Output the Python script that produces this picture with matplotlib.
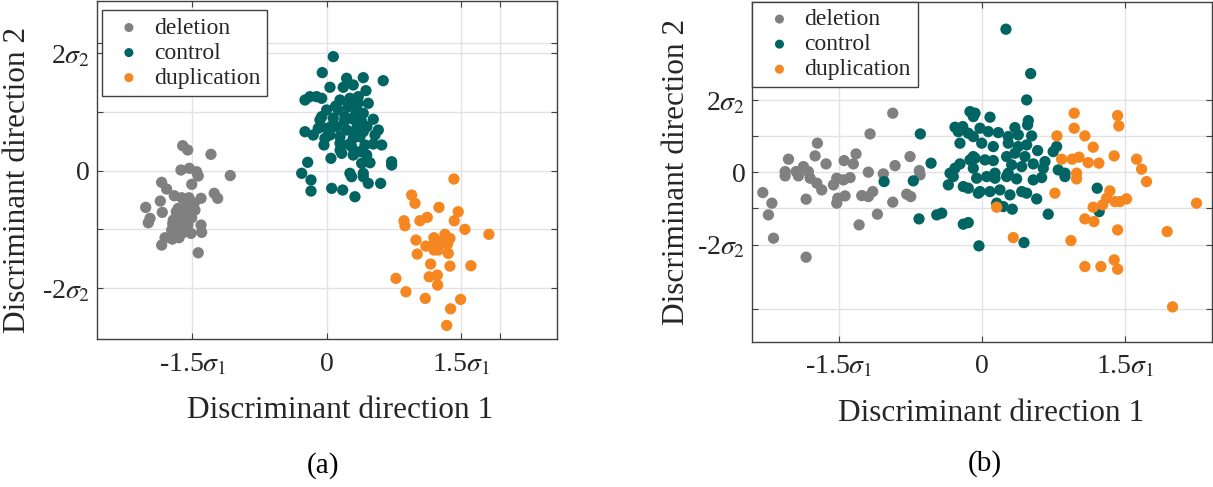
import matplotlib
matplotlib.use("Agg")
import matplotlib.pyplot as plt
import numpy as np

plt.rcParams["font.family"] = ["Liberation Serif", "DejaVu Serif"]
plt.rcParams["mathtext.fontset"] = "stix"

GREY = "#808080"
TEAL = "#006462"
ORANGE = "#f6861f"
TEXT = "#262626"

# projections, in units of sigma_1 / sigma_2

# (a) training-set projection
a_del_x = [-1.609, -1.553, -1.293, -1.628, -1.535, -1.453, -1.077, -1.844, -1.788, -1.508,
           -1.435, -1.703, -1.620, -1.539, -1.404, -1.256, -1.218, -2.022, -1.859, -1.837,
           -1.974, -1.993, -1.658, -1.583, -1.472, -1.508, -1.714, -1.676, -1.639, -1.732,
           -1.404, -1.397, -1.516, -1.806, -1.725, -1.650, -1.844, -1.435,
           -1.62, -1.58, -1.68, -1.55, -1.72, -1.60, -1.48, -1.57]
a_del_y = [0.426, 0.353, 0.279, 0.012, 0.041, -0.017, -0.082, -0.198, -0.312, -0.232,
           -0.090, -0.426, -0.460, -0.460, -0.470, -0.385, -0.470, -0.624, -0.516, -0.709,
           -0.811, -0.886, -0.641, -0.687, -0.670, -0.801, -0.840, -0.925, -0.981, -1.010,
           -0.925, -1.049, -1.066, -1.141, -1.164, -1.141, -1.266, -1.397,
           -0.75, -0.85, -0.70, -0.92, -0.90, -1.05, -0.55, -0.60]

a_ctl_x = [0.074, -0.049, 0.223, 0.409, 0.632, 0.037, 0.185, 0.297, 0.439, -0.242,
           -0.187, -0.112, -0.056, 0.149, 0.260, 0.353, 0.465, 0.000, 0.130, 0.241,
           0.335, 0.409, -0.056, -0.075, 0.074, 0.204, 0.297, 0.391, 0.521, -0.094,
           0.000, 0.112, 0.223, 0.335, 0.409, 0.577, -0.242, -0.150, 0.540, 0.037,
           0.149, 0.297, 0.372, -0.030, 0.149, 0.279, 0.428, 0.521, 0.615, 0.168,
           0.297, 0.372, 0.447, 0.048, -0.212, 0.391, 0.484, 0.726, 0.726, -0.279,
           0.260, 0.409, -0.175, 0.056, 0.179, 0.316, 0.279, 0.409, 0.465, 0.603,
           -0.175, 0.05, 0.20, 0.30, 0.10, 0.25, 0.35, 0.15, 0.45, -0.02, 0.32]
a_ctl_y = [1.942, 1.670, 1.574, 1.584, 1.533, 1.421, 1.421, 1.460, 1.363, 1.204,
           1.261, 1.261, 1.233, 1.204, 1.233, 1.261, 1.148, 1.034, 1.034, 1.090,
           1.034, 0.978, 0.920, 0.864, 0.893, 0.920, 0.876, 0.835, 0.876, 0.722,
           0.722, 0.750, 0.693, 0.722, 0.664, 0.693, 0.664, 0.608, 0.608, 0.608,
           0.579, 0.552, 0.579, 0.438, 0.467, 0.409, 0.438, 0.455, 0.438, 0.296,
           0.267, 0.324, 0.267, 0.211, 0.143, 0.126, 0.136, 0.153, 0.097, -0.044,
           -0.044, -0.044, -0.158, -0.300, -0.329, -0.443, -0.102, -0.102, -0.215, -0.215,
           -0.346, 0.75, 0.85, 0.65, 1.10, 0.45, 1.15, 0.35, 0.75, 0.55, 0.95]

a_dup_x = [1.422, 0.950, 0.987, 1.255, 1.470, 1.426, 0.864, 0.875, 1.042, 1.124,
           1.545, 1.813, 0.998, 1.199, 1.322, 1.378, 1.303, 1.109, 1.191, 1.247,
           1.359, 1.012, 1.162, 1.378, 1.612, 0.774, 1.146, 1.236, 1.240, 0.886,
           1.102, 1.497, 1.385, 1.341, 1.28, 1.35, 1.20]
a_dup_y = [-0.141, -0.414, -0.555, -0.624, -0.698, -0.852, -0.852, -0.937, -0.852, -0.794,
           -0.998, -1.083, -1.181, -1.141, -1.083, -1.152, -1.210, -1.283, -1.266, -1.351,
           -1.407, -1.419, -1.589, -1.624, -1.618, -1.833, -1.806, -1.777, -1.947, -2.061,
           -2.174, -2.191, -2.351, -2.634, -1.20, -1.25, -1.35]

# (b) held-out projection
b_del_x = [-0.938, -1.176, -1.728, -1.323, -1.752, -0.757, -2.031, -1.874, -1.637, -1.448,
           -1.351, -0.914, -2.066, -1.951, -1.822, -1.194, -1.037, -0.660, -2.066, -1.927,
           -1.804, -1.734, -1.682, -1.560, -1.525, -1.455, -1.385, -2.300, -2.205, -2.241,
           -2.188, -1.846, -1.525, -1.514, -1.438, -1.263, -1.194, -1.148, -0.938, -0.792,
           -0.750, -1.099, -1.291, -1.846, -0.652]
b_del_y = [1.640, 1.066, 0.809, 0.512, 0.457, 0.438, 0.366, 0.161, 0.235, 0.327,
           0.235, 0.188, 0.022, 0.022, 0.022, 0.006, -0.042, 0.050, -0.097, -0.097,
           -0.161, -0.299, -0.485, -0.346, -0.161, -0.208, -0.144, -0.560, -0.853, -1.177,
           -1.823, -0.742, -0.853, -0.715, -0.651, -0.643, -0.670, -0.532, -0.825, -0.604,
           -0.670, -1.158, -1.454, -2.349, -0.069]

b_ctl_x = [0.248, 0.507, 0.465, -0.076, 0.081, 0.482, 0.475, 0.342, -0.024, 0.063,
           0.168, 0.517, 0.272, 0.377, -0.006, 0.115, 0.272, 0.377, 0.465, 0.779,
           0.743, 0.580, -0.076, 0.028, 0.115, 0.255, 0.342, 0.447, 0.657, 0.308,
           0.413, 0.534, 0.639, 0.796, 0.866, 0.133, 0.272, -0.129, -0.094, -0.286,
           -0.251, -0.205, -0.147, -0.094, -0.649, -0.234, -0.094, -0.129, -0.537, -0.234,
           -0.286, -0.094, -0.338, -0.059, 0.046, 0.133, 0.255, 0.360, 0.534, 0.622,
           0.866, -0.024, 0.081, 0.185, 0.290, 0.413, 0.465, 0.151, 0.220, 0.314,
           0.570, 0.691, 0.437, -0.035, 1.204, 1.225, -1.029, -0.723, -0.356, -0.304,
           -0.199, -0.147, -0.042, -0.663, -0.477, -0.425, -0.199, -0.147]
b_ctl_y = [3.967, 2.737, 2.008, 1.640, 1.529, 1.435, 1.316, 1.241, 1.224, 1.130,
           1.102, 1.011, 0.992, 1.039, 0.809, 0.715, 0.809, 0.715, 0.762, 0.715,
           0.576, 0.604, 0.393, 0.346, 0.327, 0.438, 0.532, 0.438, 0.299, 0.208,
           0.161, 0.235, 0.116, 0.069, -0.022, -0.022, -0.022, 1.684, 1.546, 1.252,
           1.130, 1.269, 1.086, 0.992, 1.066, 0.809, 0.438, 0.346, 0.255, 0.235,
           0.116, 0.116, -0.022, -0.161, -0.116, -0.161, -0.116, -0.180, -0.208, -0.144,
           -0.116, -0.532, -0.532, -0.485, -0.623, -0.532, -0.576, -0.853, -0.947, -1.019,
           -0.734, -1.158, -1.945, -2.036, -0.438, -1.086, -0.255, -0.235, -0.346, -0.116,
           -0.393, -0.438, -0.576, -1.288, -1.177, -1.130, -1.435, -1.391]

b_dup_x = [0.963, 1.418, 1.431, 0.963, 0.782, 1.075, 1.162, 1.382, 1.617, 1.669,
           0.831, 0.942, 1.013, 1.110, 1.222, 0.988, 0.988, 1.721, 1.337, 1.303,
           1.390, 1.442, 1.512, 1.261, 1.162, 0.761, 2.245, 0.151, 1.075, 1.170,
           1.418, 1.937, 0.325, 0.929, 1.382, 1.418, 1.075, 1.243, 1.994]
b_dup_y = [1.640, 1.573, 1.288, 1.224, 1.011, 1.011, 0.698, 0.457, 0.366, 0.089,
           0.366, 0.366, 0.421, 0.271, 0.255, -0.022, -0.180, -0.255, -0.512, -0.715,
           -0.809, -0.809, -0.734, -0.900, -0.964, -0.576, -0.853, -0.964, -1.288, -1.363,
           -1.593, -1.640, -1.806, -1.889, -2.424, -2.681, -2.609, -2.609, -3.726]

group_names = ["deletion", "control", "duplication"]
group_colors = [GREY, TEAL, ORANGE]

x_ticks_a = [-1.5, 0, 1.5, 1.94]
x_labels_a = [r"-1.5$\sigma_1$", "0", r"1.5$\sigma_1$", ""]
y_ticks_a = [-2, -1, 0, 1, 2, 2.17]
y_labels_a = [r"-2$\sigma_2$", "", "0", "", r"2$\sigma_2$", ""]

x_ticks_b = [-1.5, 0, 1.5]
x_labels_b = [r"-1.5$\sigma_1$", "0", r"1.5$\sigma_1$"]
y_ticks_b = [-3.79, -2, -1, 0, 1, 2]
y_labels_b = ["", r"-2$\sigma_2$", "", "0", "", r"2$\sigma_2$"]


def draw_panel(ax, xs, ys, xlim, ylim, xt, xl, yt, yl, legend_anchor, xlab_pos, ylab_pos):
    for x, y, name, c in zip(xs, ys, group_names, group_colors):
        ax.scatter(x, y, s=66, color=c, edgecolors="none", label=name, zorder=3)
    ax.set_xlim(xlim)
    ax.set_ylim(ylim)
    ax.set_xticks(xt)
    ax.set_xticklabels(xl)
    ax.set_yticks(yt)
    ax.set_yticklabels(yl)
    ax.grid(True, color="#e2e2e2", linewidth=1.0, zorder=0)
    ax.set_axisbelow(True)
    ax.tick_params(direction="in", length=4, width=0.8, top=True, right=True,
                   colors="#404040", labelcolor=TEXT, labelsize=20)
    ax.tick_params(axis="x", pad=9)
    ax.tick_params(axis="y", pad=5)
    for sp in ax.spines.values():
        sp.set_color("#404040")
        sp.set_linewidth(1.0)
    ax.set_xlabel("Discriminant direction 1", fontsize=22.5, color=TEXT)
    ax.set_ylabel("Discriminant direction 2", fontsize=22.5, color=TEXT)
    ax.xaxis.set_label_coords(*xlab_pos)
    ax.yaxis.set_label_coords(*ylab_pos)
    leg = ax.legend(loc="upper left", bbox_to_anchor=legend_anchor, borderaxespad=0,
                    fontsize=17, markerscale=0.8, handletextpad=0.2, handlelength=1.7,
                    labelspacing=0.15, borderpad=0.3, fancybox=False, framealpha=1)
    leg.get_frame().set_edgecolor("#404040")
    leg.get_frame().set_linewidth(1.0)
    for t in leg.get_texts():
        t.set_color(TEXT)


fig = plt.figure(figsize=(12.13, 4.87), dpi=100)
ax_a = fig.add_axes([0.0797, 0.3033, 0.3792, 0.6947])
ax_b = fig.add_axes([0.6202, 0.2984, 0.3792, 0.6982])

draw_panel(ax_a, [a_del_x, a_ctl_x, a_dup_x], [a_del_y, a_ctl_y, a_dup_y],
           (-2.57, 2.57), (-2.87, 2.89), x_ticks_a, x_labels_a, y_ticks_a, y_labels_a,
           (0.011, 0.973), (0.53, -0.168), (-0.14, 0.47))
draw_panel(ax_b, [b_del_x, b_ctl_x, b_dup_x], [b_del_y, b_ctl_y, b_dup_y],
           (-2.41, 2.41), (-4.69, 4.73), x_ticks_b, x_labels_b, y_ticks_b, y_labels_b,
           (0.0, 1.0), (0.52, -0.168), (-0.133, 0.5))

fig.text(323 / 1213, 1 - 466 / 487, "(a)", fontsize=21, color="black",
         ha="center", va="center")
fig.text(985 / 1213, 1 - 464 / 487, "(b)", fontsize=21, color="black",
         ha="center", va="center")

fig.savefig("out.png", dpi=100)
